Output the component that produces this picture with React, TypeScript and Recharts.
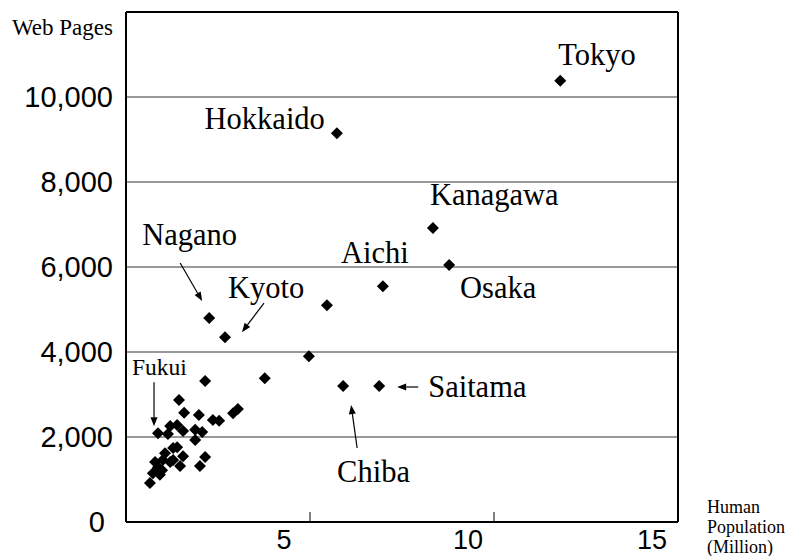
import React from "react";
import {
  ScatterChart,
  Scatter,
  XAxis,
  YAxis,
  CartesianGrid,
  ReferenceLine,
} from "recharts";

// prefectures that carry a name in the figure
const labeledNames = ["Tokyo", "Hokkaido", "Kanagawa", "Osaka", "Aichi", "Nagano", "Kyoto", "Chiba", "Saitama", "Fukui"];
const labeledPopulation = [11.8, 5.73, 8.34, 8.78, 6.98, 2.26, 2.69, 5.9, 6.88, 0.87];
const labeledPages = [10380, 9150, 6920, 6050, 5550, 4800, 4350, 3200, 3200, 2090];

// remaining prefectures
const otherPopulation = [
  5.46, 4.97, 3.77, 2.15, 1.44, 1.58, 1.98, 2.36, 2.53, 2.91, 3.04, 1.14, 1.2, 1.39, 1.55,
  1.88, 2.07, 1.88, 1.06, 1.28, 1.39, 1.55, 0.79, 1.2, 1.47, 2.15, 2.01, 0.73, 0.92, 0.98,
  0.65, 0.87, 1.28, 1.0,
];
const otherPages = [
  5100, 3900, 3380, 3320, 2870, 2570, 2520, 2400, 2380, 2560, 2660, 2070, 2260, 2280, 2140,
  2170, 2120, 1930, 1620, 1740, 1760, 1550, 1410, 1410, 1320, 1530, 1320, 1150, 1110, 1220,
  920, 1290, 1460, 1460,
];

const xTicks = [5, 10, 15];
const yTicks = [0, 2000, 4000, 6000, 8000, 10000];

const labeledData = labeledNames.map((name, i) => ({
  name,
  pop: labeledPopulation[i],
  pages: labeledPages[i],
}));
const otherData = otherPopulation.map((pop, i) => ({ name: "", pop, pages: otherPages[i] }));

const SERIF = "Liberation Serif, Times New Roman, serif";
const SANS = "Liberation Sans, Arial, sans-serif";

type Note = {
  dx: number;
  dy: number;
  anchor: "start" | "middle" | "end";
  size: number;
  arrow?: [number, number, number, number];
};

const notes: Record<string, Note> = {
  Tokyo: { dx: -2, dy: -16, anchor: "start", size: 30.5 },
  Hokkaido: { dx: -12, dy: -4, anchor: "end", size: 30.5 },
  Kanagawa: { dx: -3, dy: -23, anchor: "start", size: 30.5 },
  Osaka: { dx: 11, dy: 33, anchor: "start", size: 30.5 },
  Aichi: { dx: -8, dy: -23, anchor: "middle", size: 30.5 },
  Nagano: { dx: -67, dy: -73, anchor: "start", size: 30.5, arrow: [-29, -55, -7, -17] },
  Kyoto: { dx: 3, dy: -39, anchor: "start", size: 30.5, arrow: [39, -34, 17, -5] },
  Chiba: { dx: -6, dy: 96, anchor: "start", size: 30.5, arrow: [14, 62, 8, 19] },
  Saitama: { dx: 49, dy: 11, anchor: "start", size: 30.5, arrow: [39, 1, 18, 1] },
  Fukui: { dx: -26, dy: -58, anchor: "start", size: 23.5, arrow: [-4, -51, -4, -7] },
};

function Arrow({ x1, y1, x2, y2 }: { x1: number; y1: number; x2: number; y2: number }) {
  const ang = Math.atan2(y2 - y1, x2 - x1);
  const len = 9;
  const w = 3.5;
  const bx = x2 - len * Math.cos(ang);
  const by = y2 - len * Math.sin(ang);
  const px = -Math.sin(ang) * w;
  const py = Math.cos(ang) * w;
  return (
    <g>
      <line x1={x1} y1={y1} x2={bx} y2={by} stroke="#000" strokeWidth={1.2} />
      <polygon points={`${x2},${y2} ${bx + px},${by + py} ${bx - px},${by - py}`} fill="#000" />
    </g>
  );
}

function Diamond(props: any) {
  const { cx, cy, payload } = props;
  const r = 6;
  const note: Note | undefined = payload && notes[payload.name];
  return (
    <g>
      <path d={`M${cx},${cy - r}L${cx + r},${cy}L${cx},${cy + r}L${cx - r},${cy}Z`} fill="#000" />
      {note && (
        <text
          x={cx + note.dx}
          y={cy + note.dy}
          textAnchor={note.anchor}
          style={{ fontFamily: SERIF, fontSize: note.size }}
          fill="#000"
        >
          {payload.name}
        </text>
      )}
      {note && note.arrow && (
        <Arrow
          x1={cx + note.arrow[0]}
          y1={cy + note.arrow[1]}
          x2={cx + note.arrow[2]}
          y2={cy + note.arrow[3]}
        />
      )}
    </g>
  );
}

function XTick(props: any) {
  const { x, y, payload } = props;
  return (
    <g>
      {payload.value < 15 && <line x1={x} x2={x} y1={y - 10} y2={y} stroke="#000" strokeWidth={1} />}
      <text
        x={x - 26}
        y={y + 27}
        textAnchor="middle"
        style={{ fontFamily: SANS, fontSize: 27 }}
        fill="#000"
      >
        {payload.value}
      </text>
    </g>
  );
}

function YTick(props: any) {
  const { x, y, payload } = props;
  const v = payload.value as number;
  return (
    <text
      x={v === 0 ? x - 8 : x}
      y={y + 10}
      textAnchor="end"
      style={{ fontFamily: SANS, fontSize: 29 }}
      fill="#000"
    >
      {v.toLocaleString("en-US")}
    </text>
  );
}

export default function App() {
  return (
    <div style={{ position: "absolute", left: 0, top: 0, width: 791, height: 556, background: "#fff" }}>
      <ScatterChart width={791} height={556} margin={{ top: 12, right: 113, bottom: 4, left: 0 }}>
        <CartesianGrid horizontal vertical={false} stroke="#777" strokeWidth={1.5} />
        <XAxis
          type="number"
          dataKey="pop"
          domain={[0, 15]}
          ticks={xTicks}
          height={30}
          tickSize={0}
          tickMargin={0}
          tick={<XTick />}
          axisLine={{ stroke: "#000", strokeWidth: 2 }}
          tickLine={false}
        />
        <YAxis
          type="number"
          dataKey="pages"
          domain={[0, 12000]}
          ticks={yTicks}
          width={126}
          tickSize={0}
          tickMargin={13}
          tick={<YTick />}
          axisLine={{ stroke: "#000", strokeWidth: 2 }}
          tickLine={false}
        />
        <ReferenceLine y={12000} stroke="#000" strokeWidth={2} />
        <ReferenceLine x={15} stroke="#000" strokeWidth={2} />
        <Scatter data={otherData} shape={<Diamond />} isAnimationActive={false} />
        <Scatter data={labeledData} shape={<Diamond />} isAnimationActive={false} />
      </ScatterChart>
      <svg
        width={791}
        height={556}
        style={{ position: "absolute", left: 0, top: 0, pointerEvents: "none" }}
      >
        <text x={12} y={35} style={{ fontFamily: SERIF, fontSize: 23 }} fill="#000">
          Web Pages
        </text>
        <text style={{ fontFamily: SERIF, fontSize: 18 }} fill="#000">
          <tspan x={707} y={513}>Human</tspan>
          <tspan x={707} y={533}>Population</tspan>
          <tspan x={707} y={553}>(Million)</tspan>
        </text>
      </svg>
    </div>
  );
}
